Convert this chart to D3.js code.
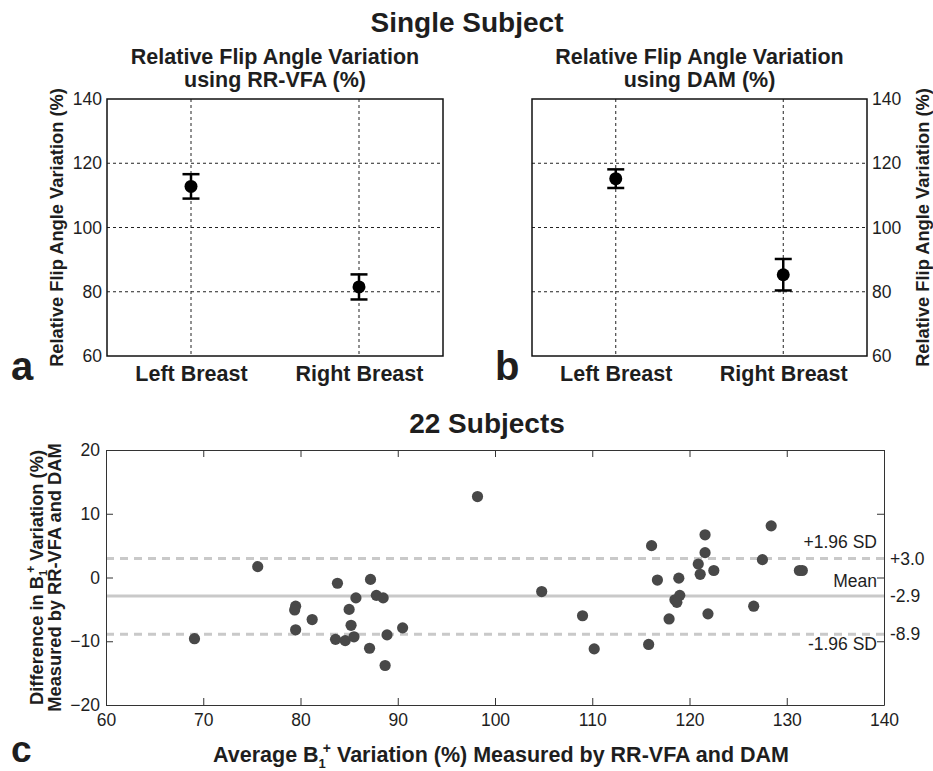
<!DOCTYPE html>
<html>
<head>
<meta charset="utf-8">
<script src="https://cdn.jsdelivr.net/npm/d3@7"></script>
<style>
  html, body { margin: 0; padding: 0; background: #fff; }
  svg { display: block; font-family: "Liberation Sans", Arial, Helvetica, sans-serif; }
</style>
</head>
<body>
<svg id="chart" width="933" height="771"></svg>
<script>
// ---------- DATA ----------
const categories = ["Left Breast", "Right Breast"];
const rrvfaMean = [112.8, 81.5];
const rrvfaErr = [3.8, 3.9];
const damMean = [115.2, 85.3];
const damErr = [2.9, 4.9];
const topYTicks = [60, 80, 100, 120, 140];
const topGridY = [80, 100, 120];

const blandAvg = [69.1, 75.6, 83.8, 87.2, 79.5, 79.4, 85.7, 87.8, 88.5, 85.0, 81.2, 79.5, 85.2, 90.5, 83.6, 84.6, 85.5, 88.9, 87.1, 88.7,
  98.2, 104.8, 109.0, 110.2, 115.8, 116.1, 116.7, 117.9, 118.9, 119.0, 118.5, 118.7, 120.9, 121.1, 121.6, 121.6, 122.5, 121.9, 126.6, 127.5, 128.4, 131.3, 131.6];
const blandDiff = [-9.6, 1.7, -0.9, -0.3, -4.5, -5.1, -3.2, -2.8, -3.2, -5.0, -6.6, -8.2, -7.5, -7.9, -9.7, -9.9, -9.3, -9.0, -11.1, -13.8,
  12.7, -2.2, -6.0, -11.2, -10.5, 5.0, -0.4, -6.5, -0.1, -2.8, -3.5, -3.9, 2.1, 0.5, 6.7, 3.9, 1.1, -5.7, -4.5, 2.8, 8.1, 1.1, 1.1];
const blandXTicks = [60, 70, 80, 90, 100, 110, 120, 130, 140];
const blandYTicks = [-20, -10, 0, 10, 20];
const meanDiff = -2.9;
const upperLoA = 3.0;
const lowerLoA = -8.9;
const refLabelsRight = ["+3.0", "-2.9", "-8.9"];
const refLabelsLeft = ["+1.96 SD", "Mean", "-1.96 SD"];

// ---------- DRAW ----------
const svg = d3.select("#chart");
const FONT = '"Liberation Sans", Arial, Helvetica, sans-serif';
const TXT = "#1e1e1e";

svg.append("text").attr("x", 467).attr("y", 32).attr("text-anchor", "middle")
  .attr("font-size", 28).attr("font-weight", "bold").attr("fill", TXT).text("Single Subject");

function smallPanel(opts) {
  const { x0, x1, y0, y1, means, errs, title1, title2, side, letter, letterX } = opts;
  const g = svg.append("g");
  const x = d3.scaleLinear().domain([0.5, 2.5]).range([x0, x1]);
  const y = d3.scaleLinear().domain([60, 140]).range([y1, y0]);

  // grid
  g.selectAll(".hg").data(topGridY).enter().append("line")
    .attr("x1", x0).attr("x2", x1).attr("y1", d => y(d)).attr("y2", d => y(d))
    .attr("stroke", "#222").attr("stroke-width", 1).attr("stroke-dasharray", "3,3");
  g.selectAll(".vg").data(categories).enter().append("line")
    .attr("x1", (d, i) => x(i + 1)).attr("x2", (d, i) => x(i + 1)).attr("y1", y0).attr("y2", y1)
    .attr("stroke", "#222").attr("stroke-width", 1).attr("stroke-dasharray", "3,3");

  // box
  g.append("rect").attr("x", x0).attr("y", y0).attr("width", x1 - x0).attr("height", y1 - y0)
    .attr("fill", "none").attr("stroke", "#111").attr("stroke-width", 1.5);

  // y axis
  const axis = side === "left" ? d3.axisLeft(y) : d3.axisRight(y);
  const ag = g.append("g").attr("transform", `translate(${side === "left" ? x0 : x1},0)`)
    .call(axis.tickValues(topYTicks).tickSize(0).tickPadding(5));
  ag.select(".domain").remove();
  ag.selectAll("text").attr("font-size", 17.5).attr("font-family", FONT).attr("fill", TXT);

  // x axis (category labels)
  const xg = g.append("g").attr("transform", `translate(0,${y1})`)
    .call(d3.axisBottom(x).tickValues([1, 2]).tickFormat((d) => categories[d - 1]).tickSize(0).tickPadding(10));
  xg.select(".domain").remove();
  xg.selectAll("text").attr("font-size", 21.5).attr("font-weight", "bold").attr("font-family", FONT).attr("fill", TXT);

  // error bars
  const cap = 8.5;
  means.forEach((m, i) => {
    const cx = x(i + 1);
    g.append("line").attr("x1", cx).attr("x2", cx).attr("y1", y(m + errs[i])).attr("y2", y(m - errs[i]))
      .attr("stroke", "#000").attr("stroke-width", 2.5);
    [m + errs[i], m - errs[i]].forEach(v => {
      g.append("line").attr("x1", cx - cap).attr("x2", cx + cap).attr("y1", y(v)).attr("y2", y(v))
        .attr("stroke", "#000").attr("stroke-width", 2.5);
    });
    g.append("circle").attr("cx", cx).attr("cy", y(m)).attr("r", 6.5).attr("fill", "#000");
  });

  // titles
  const tc = (x0 + x1) / 2;
  g.append("text").attr("x", tc).attr("y", 64).attr("text-anchor", "middle")
    .attr("font-size", 21.5).attr("font-weight", "bold").attr("fill", TXT).text(title1);
  g.append("text").attr("x", tc).attr("y", 87).attr("text-anchor", "middle")
    .attr("font-size", 21.5).attr("font-weight", "bold").attr("fill", TXT).text(title2);

  // y label
  const lx = side === "left" ? 63 : 929;
  g.append("text").attr("transform", `translate(${lx},${(y0 + y1) / 2}) rotate(-90)`)
    .attr("text-anchor", "middle").attr("font-size", 18.3).attr("font-weight", "bold").attr("fill", TXT)
    .text("Relative Flip Angle Variation (%)");

  // panel letter
  g.append("text").attr("x", letterX).attr("y", 380).attr("font-size", 40).attr("font-weight", "bold")
    .attr("fill", TXT).text(letter);
}

smallPanel({ x0: 107, x1: 443, y0: 99, y1: 356, means: rrvfaMean, errs: rrvfaErr,
  title1: "Relative Flip Angle Variation", title2: "using RR-VFA (%)", side: "left", letter: "a", letterX: 11 });
smallPanel({ x0: 532, x1: 867, y0: 99, y1: 356, means: damMean, errs: damErr,
  title1: "Relative Flip Angle Variation", title2: "using DAM (%)", side: "right", letter: "b", letterX: 495 });

// ---------- Panel c ----------
(function () {
  const x0 = 106, x1 = 884, y0 = 450, y1 = 705;
  const g = svg.append("g");
  const x = d3.scaleLinear().domain([60, 140]).range([x0, x1]);
  const y = d3.scaleLinear().domain([-20, 20]).range([y1, y0]);

  g.append("text").attr("x", 487).attr("y", 433).attr("text-anchor", "middle")
    .attr("font-size", 28).attr("font-weight", "bold").attr("fill", TXT).text("22 Subjects");

  // reference lines
  [upperLoA, lowerLoA].forEach(v => {
    g.append("line").attr("x1", x0).attr("x2", x1).attr("y1", y(v)).attr("y2", y(v))
      .attr("stroke", "#c9c9c9").attr("stroke-width", 3).attr("stroke-dasharray", "8,6");
  });
  g.append("line").attr("x1", x0).attr("x2", x1).attr("y1", y(meanDiff)).attr("y2", y(meanDiff))
    .attr("stroke", "#c9c9c9").attr("stroke-width", 3);

  // axes
  const fmt = d => d < 0 ? "\u2212" + Math.abs(d) : String(d);
  const bx = g.append("g").attr("transform", `translate(0,${y1})`)
    .call(d3.axisBottom(x).tickValues(blandXTicks).tickSizeInner(-7).tickSizeOuter(0).tickPadding(9));
  const tx = g.append("g").attr("transform", `translate(0,${y0})`)
    .call(d3.axisTop(x).tickValues(blandXTicks).tickSizeInner(-7).tickSizeOuter(0).tickFormat(""));
  const ly = g.append("g").attr("transform", `translate(${x0},0)`)
    .call(d3.axisLeft(y).tickValues(blandYTicks).tickFormat(fmt).tickSizeInner(-7).tickSizeOuter(0).tickPadding(6));
  const ry = g.append("g").attr("transform", `translate(${x1},0)`)
    .call(d3.axisRight(y).tickValues(blandYTicks).tickSizeInner(-7).tickSizeOuter(0).tickFormat(""));
  [bx, tx, ly, ry].forEach(a => {
    a.selectAll(".tick line").attr("stroke", "#333");
    a.select(".domain").attr("stroke", "#333");
    a.selectAll("text").attr("font-size", 17.5).attr("font-family", FONT).attr("fill", TXT);
  });

  // points
  g.selectAll(".pt").data(blandAvg).enter().append("circle")
    .attr("cx", d => x(d)).attr("cy", (d, i) => y(blandDiff[i])).attr("r", 5.6).attr("fill", "#484848");

  // reference labels
  const refVals = [upperLoA, meanDiff, lowerLoA];
  refVals.forEach((v, i) => {
    g.append("text").attr("x", 890).attr("y", y(v)).attr("dy", "0.35em")
      .attr("font-size", 17.5).attr("fill", TXT).text(refLabelsRight[i]);
  });
  const offs = [-10, -9, 16];
  refVals.forEach((v, i) => {
    g.append("text").attr("x", 877).attr("y", y(v) + offs[i]).attr("text-anchor", "end")
      .attr("font-size", 17.5).attr("fill", TXT).text(refLabelsLeft[i]);
  });

  // y label (two lines, rotated)
  const yl = g.append("text").attr("transform", `translate(0,${(y0 + y1) / 2}) rotate(-90)`)
    .attr("text-anchor", "middle").attr("font-size", 18.3).attr("font-weight", "bold").attr("fill", TXT);
  const l1 = yl.append("tspan").attr("x", 0).attr("y", 43);
  l1.append("tspan").text("Difference in B");
  l1.append("tspan").attr("font-size", 11).attr("dy", 4).text("1");
  l1.append("tspan").attr("font-size", 12).attr("dx", -3).attr("dy", -12).text("+");
  l1.append("tspan").attr("dy", 8).text(" Variation (%)");
  yl.append("tspan").attr("x", 0).attr("y", 61).text("Measured by RR-VFA and DAM");

  // x label
  const xl = g.append("text").attr("x", 501).attr("y", 762).attr("text-anchor", "middle")
    .attr("font-size", 21.5).attr("font-weight", "bold").attr("fill", TXT);
  xl.append("tspan").text("Average B");
  xl.append("tspan").attr("font-size", 13).attr("dy", 6).text("1");
  xl.append("tspan").attr("font-size", 14).attr("dx", -3).attr("dy", -15).text("+");
  xl.append("tspan").attr("dy", 9).text(" Variation (%) Measured by RR-VFA and DAM");

  g.append("text").attr("x", 11).attr("y", 762).attr("font-size", 37).attr("font-weight", "bold")
    .attr("fill", TXT).text("c");
})();
</script>
</body>
</html>
